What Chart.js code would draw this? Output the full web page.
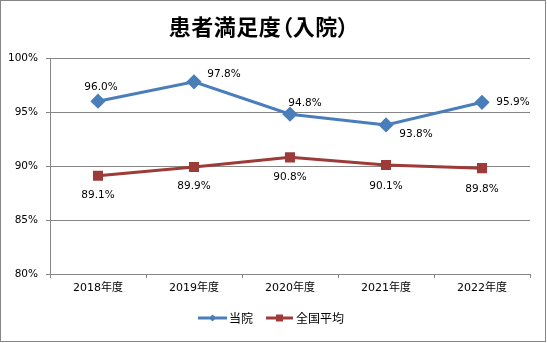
<!DOCTYPE html>
<html><head><meta charset="utf-8">
<script src="https://cdn.jsdelivr.net/npm/chart.js@4/dist/chart.umd.min.js"></script>
<style>html,body{margin:0;padding:0;background:#fff}#wrap{width:547px;height:343px;position:relative}
#title{position:absolute;left:0;top:10px;width:518px;text-align:center;font:bold 22px "Noto Sans CJK JP",sans-serif;font-feature-settings:"palt";letter-spacing:0.5px;line-height:30px;color:#000}</style>
</head><body><div id="wrap"><canvas id="c" width="547" height="343"></canvas><div id="title"></div></div>
<script>
const categories = ['2018年度','2019年度','2020年度','2021年度','2022年度'];
const hospital = [96.0, 97.8, 94.8, 93.8, 95.9];
const national = [89.1, 89.9, 90.8, 90.1, 89.8];
const seriesNames = ['当院','全国平均'];
const yTicks = [80, 85, 90, 95, 100];
const titleText = '患者満足度（入院）';
document.getElementById('title').textContent = titleText;

const BLUE = '#4a7ebb', RED = '#9c3b38';
const FONT = '"DejaVu Sans","Noto Sans CJK JP",sans-serif';
// label offsets (style only)
const labelOffsets = [
  [[3,-14],[30,-7],[15,-11],[30,9],[31,0]],
  [[0,20],[0,19],[0,20],[0,21],[0,21]]
];

const deco = {
  id:'deco',
  afterDatasetsDraw(chart){
    const ctx = chart.ctx;
    ctx.save();
    ctx.font = '10.5px ' + FONT;
    ctx.fillStyle = '#000';
    ctx.textAlign = 'center';
    ctx.textBaseline = 'middle';
    chart.data.datasets.forEach((ds, di) => {
      const meta = chart.getDatasetMeta(di);
      meta.data.forEach((pt, i) => {
        const o = labelOffsets[di][i];
        ctx.fillText(ds.data[i].toFixed(1) + '%', pt.x + o[0], pt.y + o[1]);
      });
    });
    ctx.restore();
  },
  afterDraw(chart){
    const ctx = chart.ctx;
    ctx.save();
    // legend
    const items = [
      {x1:198, x2:227, color:BLUE, style:'diamond', text:seriesNames[0], tx:229},
      {x1:266, x2:293, color:RED, style:'square', text:seriesNames[1], tx:296}
    ];
    const ly = 318;
    items.forEach(it => {
      ctx.strokeStyle = it.color; ctx.lineWidth = 3;
      ctx.beginPath(); ctx.moveTo(it.x1, ly); ctx.lineTo(it.x2, ly); ctx.stroke();
      ctx.fillStyle = it.color;
      const cx = (it.x1 + it.x2) / 2;
      ctx.beginPath();
      if (it.style === 'diamond') {
        ctx.moveTo(cx, ly-3.5); ctx.lineTo(cx+3.5, ly); ctx.lineTo(cx, ly+3.5); ctx.lineTo(cx-3.5, ly); ctx.closePath();
      } else {
        ctx.rect(cx-3.5, ly-3.5, 7, 7);
      }
      ctx.fill();
      ctx.fillStyle = '#000';
      ctx.textAlign = 'left';
      ctx.textBaseline = 'middle';
      ctx.font = '12px "Noto Sans CJK JP",sans-serif';
      ctx.fillText(it.text, it.tx, ly);
    });
    // border
    ctx.strokeStyle = '#868686'; ctx.lineWidth = 1;
    ctx.strokeRect(0.5, 0.5, 545, 341);
    ctx.restore();
  }
};

new Chart(document.getElementById('c'), {
  type:'line',
  data:{
    labels: categories,
    datasets:[
      {label:seriesNames[0], data:hospital, borderColor:BLUE, backgroundColor:BLUE, borderWidth:3,
       pointStyle:'rectRot', pointRadius:5.5, pointHoverRadius:5.5, tension:0},
      {label:seriesNames[1], data:national, borderColor:RED, backgroundColor:RED, borderWidth:3,
       pointStyle:'rect', pointRadius:5, pointHoverRadius:5, tension:0}
    ]
  },
  options:{
    responsive:false, animation:false, events:[],
    layout:{padding:{left:0,right:17,top:58,bottom:0}},
    plugins:{legend:{display:false}, title:{display:false}, tooltip:{enabled:false}},
    scales:{
      x:{
        offset:true,
        grid:{offset:true, drawOnChartArea:false, drawTicks:true, tickLength:4, color:'#868686'},
        border:{display:true, color:'#868686'},
        ticks:{font:{size:11, family:FONT}, color:'#000', padding:4, maxRotation:0},
        afterFit(s){ s.height = 69; }
      },
      y:{
        min:80, max:100,
        afterBuildTicks(s){ s.ticks = yTicks.map(v => ({value:v})); },
        grid:{color:'#868686', tickLength:4, drawTicks:true},
        border:{display:true, color:'#868686'},
        ticks:{font:{size:10.5, family:FONT}, color:'#000', padding:8, callback:v => v + '%'},
        afterFit(s){ s.width = 50; }
      }
    }
  },
  plugins:[deco]
});
</script>
</body></html>
